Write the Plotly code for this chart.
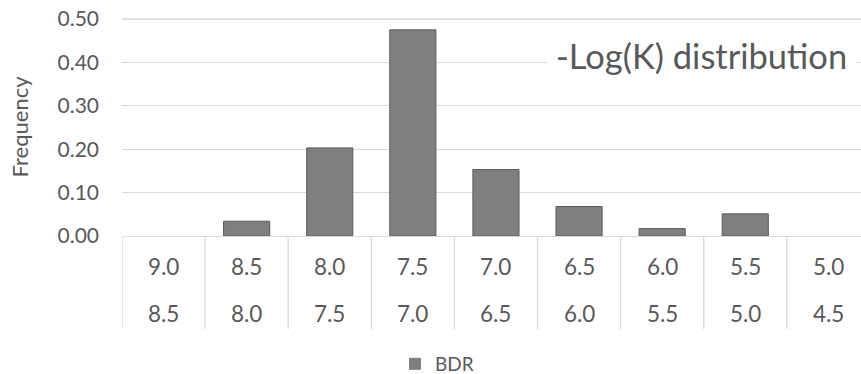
import plotly.graph_objects as go

# ---- data ----
bin_upper = ["9.0", "8.5", "8.0", "7.5", "7.0", "6.5", "6.0", "5.5", "5.0"]
bin_lower = ["8.5", "8.0", "7.5", "7.0", "6.5", "6.0", "5.5", "5.0", "4.5"]
frequency = [0.0, 0.034, 0.203, 0.475, 0.153, 0.068, 0.017, 0.051, 0.0]
series_name = "BDR"
y_ticks = [0.0, 0.1, 0.2, 0.3, 0.4, 0.5]
chart_title = "-Log(K) distribution"
y_title = "Frequency"

FONT = "Lato"
TXT = "#595959"
GRID = "#d9d9d9"

W, H = 861, 374
# plot area in window pixels
PL, PR, PT, PB = 122, 861, 18, 236
ML, MT = PL, PT
MR = W - PR
MB = H - PB
plot_w = PR - PL
plot_h = PB - PT
y_top = 0.5 * plot_h / (PB - 19)   # 0.50 gridline sits at pixel row 19

cat_px = 83.1
n = len(frequency)
x_idx = list(range(n))
x_max = -0.5 + plot_w / cat_px

fig = go.Figure()
fig.add_trace(go.Bar(
    x=x_idx, y=frequency, name=series_name,
    marker=dict(color="#7f7f7f",
                line=dict(color="#5a5a5a", width=[1 if v > 0 else 0 for v in frequency])),
    width=0.555, showlegend=True,
))

def py(pix):
    """window pixel row -> paper y"""
    return (PB - pix) / plot_h

def px(pix):
    return (pix - PL) / plot_w

shapes = []
for i in range(n + 1):
    xb = i - 0.5
    if xb > x_max:
        continue
    shapes.append(dict(type="line", xref="x", yref="paper", x0=xb, x1=xb,
                       y0=0, y1=py(329), line=dict(color=GRID, width=1.3)))
# top gridline (plotly may skip a gridline sitting at the plot edge)
shapes.append(dict(type="line", xref="paper", yref="y", x0=0, x1=1,
                   y0=y_ticks[-1], y1=y_ticks[-1], layer="below",
                   line=dict(color=GRID, width=1.3)))

annotations = []
for i in range(n):
    annotations.append(dict(x=i, y=py(266), xref="x", yref="paper", text=bin_upper[i],
                            showarrow=False, font=dict(family=FONT, size=22.5, color=TXT),
                            xanchor="center", yanchor="middle"))
    annotations.append(dict(x=i, y=py(313), xref="x", yref="paper", text=bin_lower[i],
                            showarrow=False, font=dict(family=FONT, size=22.5, color=TXT),
                            xanchor="center", yanchor="middle"))

annotations.append(dict(x=px(701), y=py(56), xref="paper", yref="paper", text=chart_title,
                        showarrow=False, font=dict(family=FONT, size=34.5, color=TXT),
                        xanchor="center", yanchor="middle", bgcolor="white", borderpad=8))

fig.update_layout(
    width=W, height=H,
    margin=dict(l=ML, r=MR, t=MT, b=MB, pad=0, autoexpand=False),
    paper_bgcolor="white", plot_bgcolor="white",
    font=dict(family=FONT, color=TXT),
    bargap=0.445,
    xaxis=dict(range=[-0.5, x_max], showticklabels=False, showgrid=False, automargin=False,
               zeroline=False, showline=True, linecolor=GRID, linewidth=1.3, ticks=""),
    yaxis=dict(range=[0, y_top], tickvals=y_ticks, tickformat=".2f", automargin=False,
               showgrid=True, gridcolor=GRID, gridwidth=1.3, zeroline=False,
               showline=False, ticks="", ticklabelstandoff=22,
               tickfont=dict(family=FONT, size=21, color=TXT),
               title=dict(text=y_title, font=dict(family=FONT, size=22, color=TXT), standoff=22)),
    legend=dict(orientation="h", x=px(437), xanchor="center", y=py(364), yanchor="middle",
                font=dict(family=FONT, size=19, color=TXT), bgcolor="rgba(0,0,0,0)"),
    shapes=shapes,
    annotations=annotations,
)

# remove the browser's default 8px body margin so the figure fills the window exactly
fig.write_html("out.html",
               config={"displayModeBar": False},
               post_script="document.body.style.margin='0';document.body.style.overflow='hidden';")
